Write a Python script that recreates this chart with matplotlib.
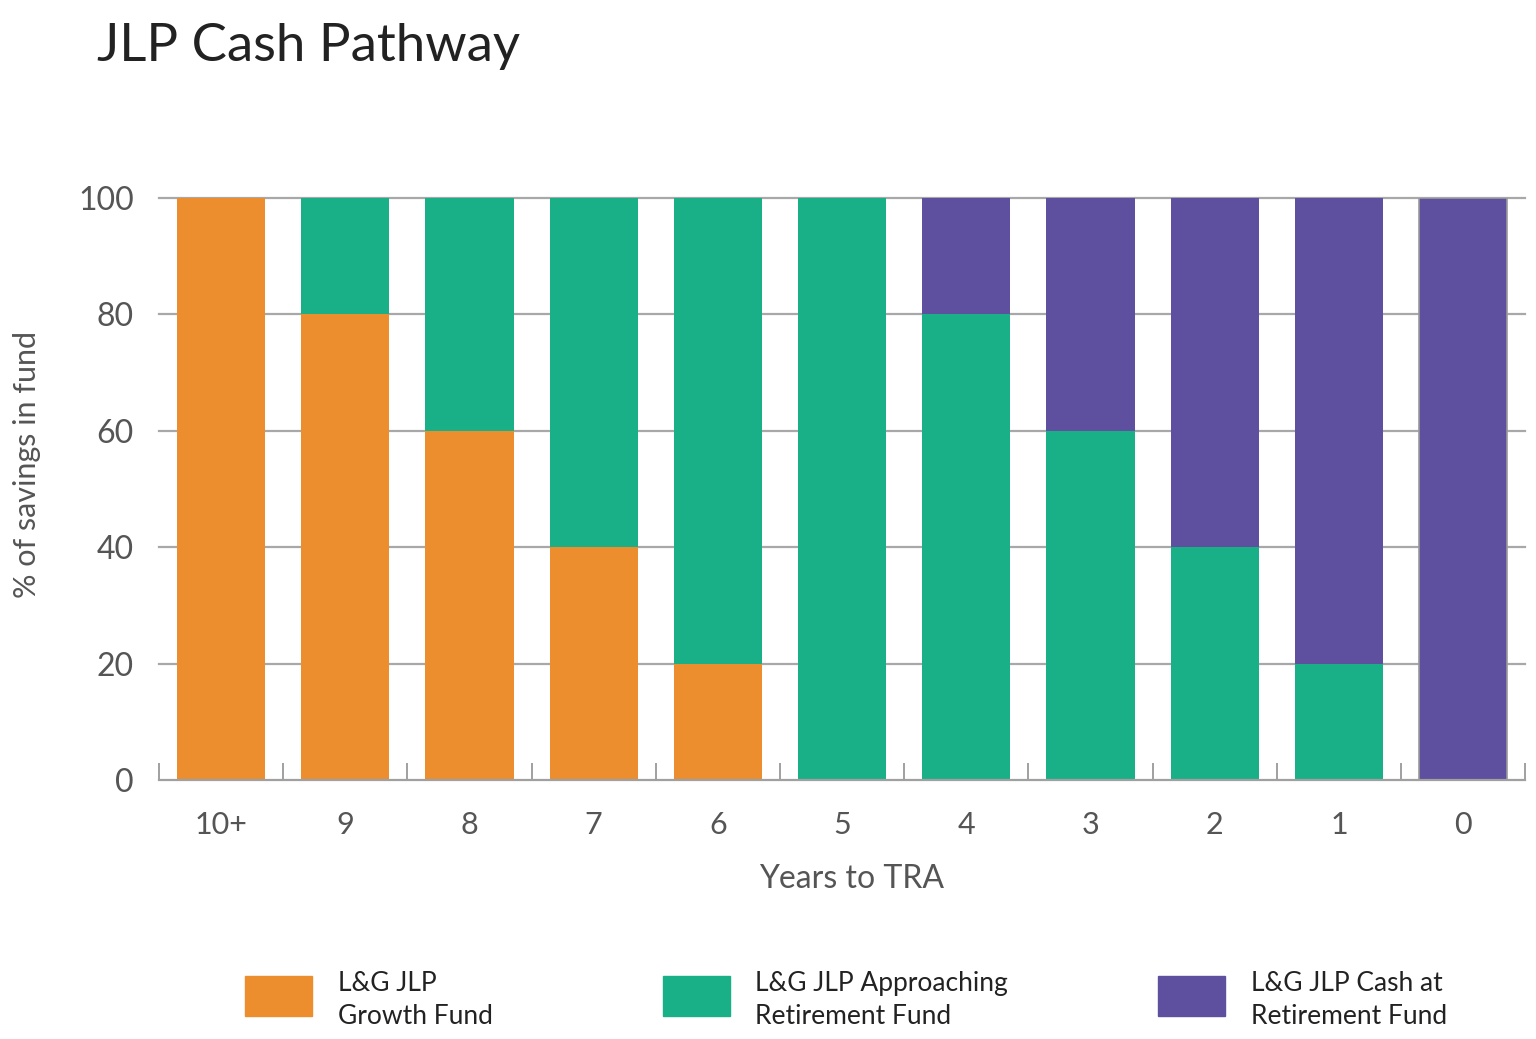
import numpy as np
import matplotlib.pyplot as plt
from matplotlib.patches import Rectangle

plt.rcParams['font.family'] = ['Lato', 'DejaVu Sans']

years = ['10+', '9', '8', '7', '6', '5', '4', '3', '2', '1', '0']
growth = [100, 80, 60, 40, 20, 0, 0, 0, 0, 0, 0]
approaching = [0, 20, 40, 60, 80, 100, 80, 60, 40, 20, 0]
cash = [0, 0, 0, 0, 0, 0, 20, 40, 60, 80, 100]

series_names = ['L&G JLP\nGrowth Fund',
                'L&G JLP Approaching\nRetirement Fund',
                'L&G JLP Cash at\nRetirement Fund']
colors = ['#EC8D2E', '#19B088', '#5E4F9F']

fig = plt.figure(figsize=(15.36, 10.39), dpi=100)
ax = fig.add_axes([0.1035, 0.2493, 0.8895, 0.5601])

x = np.arange(len(years))
w = 0.71
ax.bar(x, growth, w, color=colors[0], zorder=2)
ax.bar(x, approaching, w, bottom=growth, color=colors[1], zorder=2)
bottom2 = np.array(growth) + np.array(approaching)
# the last (all cash) bar has a thin grey outline in the original
edges = ['none'] * (len(years) - 1) + ['#9A9A9A']
ax.bar(x, cash, w, bottom=bottom2, color=colors[2], edgecolor=edges,
       linewidth=1.2, zorder=2)

ax.set_xlim(-0.5, len(years) - 0.5)
ax.set_ylim(0, 100)
ax.set_yticks([0, 20, 40, 60, 80, 100])
for v in [20, 40, 60, 80, 100]:
    ax.axhline(v, color='#A8A8A8', lw=1.6, zorder=1, clip_on=False)

ax.set_xticks(x)
ax.set_xticklabels(years)
ax.set_xticks(np.arange(-0.5, len(years)), minor=True)
ax.tick_params(axis='x', which='major', length=0, pad=22, labelsize=22, labelcolor='#555555')
ax.tick_params(axis='x', which='minor', direction='in', length=12, width=1.4, color='#A0A0A0')
ax.tick_params(axis='y', length=0, pad=18, labelsize=23, labelcolor='#555555')

for s in ['top', 'right', 'left']:
    ax.spines[s].set_visible(False)
ax.spines['bottom'].set_color('#A0A0A0')
ax.spines['bottom'].set_linewidth(1.6)

ax.set_xlabel('Years to TRA', fontsize=23, color='#555555')
ax.xaxis.set_label_coords(0.507, -0.145)
ax.set_ylabel('% of savings in fund', fontsize=22, color='#555555')
ax.yaxis.set_label_coords(-0.086, 0.543)

fig.text(0.063, 0.955, 'JLP Cash Pathway', fontsize=38, color='#222222', va='center', ha='left')

# legend
W, H = 1536, 1039
patch_x = [245, 663, 1158]
text_x = [338, 755, 1251]
for px, tx, name, c in zip(patch_x, text_x, series_names, colors):
    fig.add_artist(Rectangle((px / W, 1 - 1016 / H), 67 / W, 40 / H,
                             transform=fig.transFigure, color=c))
    fig.text(tx / W, 1 - 1000 / H, name, fontsize=19, color='#222222',
             va='center', ha='left', linespacing=1.4)

fig.savefig('out.png', dpi=100)
